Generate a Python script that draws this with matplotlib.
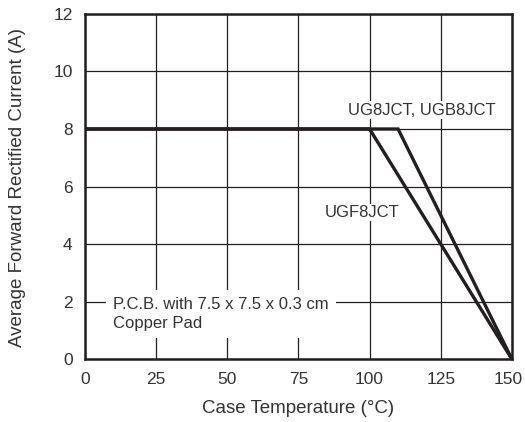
import matplotlib
matplotlib.use('Agg')
import matplotlib.pyplot as plt
import matplotlib.transforms as mtransforms

plt.rcParams['font.family'] = ['Liberation Sans', 'DejaVu Sans']

# data
temp_ug8 = [0, 110, 150]
curr_ug8 = [8, 8, 0]
temp_ugf8 = [0, 100, 150]
curr_ugf8 = [8, 8, 0]
x_ticks = [0, 25, 50, 75, 100, 125, 150]
y_ticks = [0, 2, 4, 6, 8, 10, 12]

INK = '#231f20'
TXT = '#333333'

fig = plt.figure(figsize=(5.25, 4.22), dpi=100)
ax = fig.add_axes([0.162, 0.149, 0.813, 0.818])

ax.plot(temp_ug8, curr_ug8, color=INK, lw=2.4, solid_joinstyle='miter', zorder=4)
ax.plot(temp_ugf8, curr_ugf8, color=INK, lw=2.4, solid_joinstyle='miter', zorder=4)

ax.set_xlim(0, 150)
ax.set_ylim(0, 12)
ax.set_xticks(x_ticks)
ax.set_yticks(y_ticks)
ax.grid(True, color=INK, lw=0.9)
ax.set_axisbelow(True)
ax.tick_params(length=0, labelsize=12.5, colors=TXT)
ax.tick_params(axis='y', pad=9)
ax.tick_params(axis='x', pad=9)
for s in ax.spines.values():
    s.set_linewidth(1.8)
    s.set_color(INK)

# nudge the last x tick label inward so it stays in the picture
last = ax.get_xticklabels()[-1]
last.set_transform(last.get_transform() + mtransforms.ScaledTranslation(-4 / 100, 0, fig.dpi_scale_trans))

ax.set_xlabel('Case Temperature (°C)', fontsize=13.5, color=TXT, va='center')
ax.xaxis.set_label_coords(0.5, -0.142)
ax.set_ylabel('Average Forward Rectified Current (A)', fontsize=13.5, color=TXT, va='center')
ax.yaxis.set_label_coords(-0.159, 0.497)

ax.text(92.4, 8.66, 'UG8JCT, UGB8JCT', fontsize=12, va='center', ha='left', color=TXT,
        bbox=dict(facecolor='white', edgecolor='none', pad=1), zorder=3)
ax.text(84.3, 5.1, 'UGF8JCT', fontsize=12, va='center', ha='left', color=TXT,
        bbox=dict(facecolor='white', edgecolor='none', pad=1), zorder=3)
ax.text(9.8, 1.57, 'P.C.B. with 7.5 x 7.5 x 0.3 cm\nCopper Pad', fontsize=12, va='center', ha='left',
        color=TXT, linespacing=1.3,
        bbox=dict(facecolor='white', edgecolor='none', pad=5), zorder=3)

fig.savefig('out.png', dpi=100)
